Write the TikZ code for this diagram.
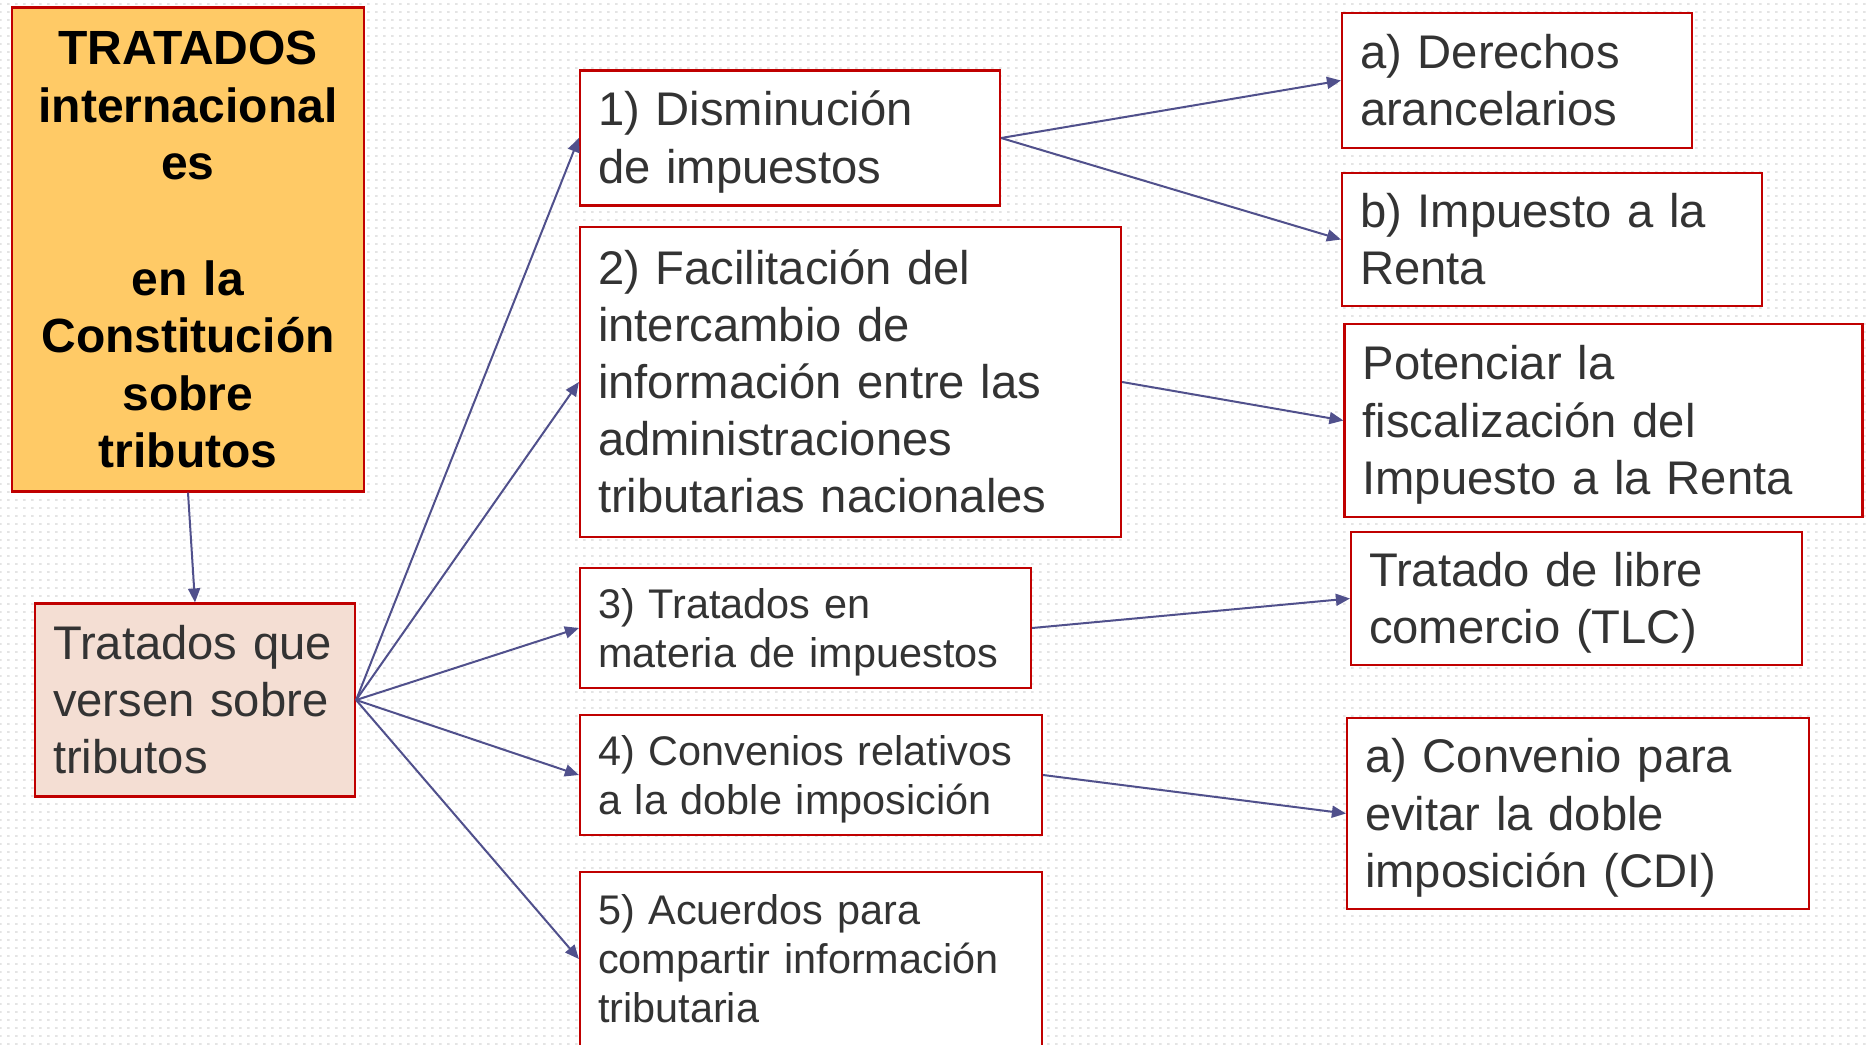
\documentclass[tikz,border=0pt]{standalone}
\usepackage{fontspec}
\setmainfont{Liberation Sans}
\usetikzlibrary{arrows.meta,patterns.meta}
\definecolor{boxred}{HTML}{C00000}
\definecolor{txt}{HTML}{333333}
\definecolor{arrcol}{HTML}{50508C}
\definecolor{orangefill}{HTML}{FFCA66}
\definecolor{pinkfill}{HTML}{F4DED3}
\definecolor{dotcol}{HTML}{E4E4E4}
\newcommand\bigf{\fontsize{23.6pt}{28.6pt}\selectfont}
\newcommand\smallf{\fontsize{20.7pt}{24.5pt}\selectfont}
\newcommand\hs{\rule{0pt}{1em}}
\newcommand\ds{\rule[-0.3em]{0pt}{0pt}}
\tikzdeclarepattern{name=bgdots, type=uncolored,
  bounding box={(0pt,0pt) and (4pt,4pt)}, tile size={(4pt,4pt)},
  code={\fill (0pt,0pt) rectangle (1.5pt,1.1pt);}}
\tikzset{
  box/.style={draw=boxred, line width=1.1pt, fill=white, inner xsep=9pt, inner ysep=0pt,
    align=left, anchor=center, text=txt, font=\bigf},
  sbox/.style={box, font=\smallf},
  arr/.style={draw=arrcol, line width=1pt, -{Triangle[length=7pt,width=6pt]}}
}
\begin{document}
\begin{tikzpicture}[x=0.5pt,y=-0.5pt]
\useasboundingbox (0,0) rectangle (1866,1044);
\fill[white] (0,0) rectangle (1866,1044);
\fill[pattern=bgdots, pattern color=dotcol] (0,0) rectangle (1866,1044);

\node[box, fill=orangefill, align=center, text=black, font=\fontsize{24pt}{28.8pt}\selectfont\bfseries,
  minimum width=176pt, minimum height=242pt, text width=158pt] (title) at (188,249.5)
  {\hs TRATADOS\\internacional\\es\\[28.8pt]en la\\Constitución\\sobre\\tributos\ds};

\node[box, fill=pinkfill, minimum width=160pt, minimum height=96.5pt, text width=142pt] (pink) at (195,700)
  {\hs Tratados que\\versen sobre\\tributos\ds};

\node[box, minimum width=210pt, minimum height=67.5pt, text width=192pt] (b1) at (790,138)
  {\hs 1) Disminución\\de impuestos\ds};
\node[box, minimum width=270.5pt, minimum height=155pt, text width=252.5pt] (b2) at (850.5,382)
  {\hs 2) Facilitación del\\intercambio de\\información entre las\\administraciones\\tributarias nacionales\ds};
\node[sbox, minimum width=225.5pt, minimum height=60pt, text width=207.5pt] (b3) at (805.5,628)
  {\hs 3) Tratados en\\materia de impuestos\ds};
\node[sbox, minimum width=231pt, minimum height=60pt, text width=213pt] (b4) at (811,775)
  {\hs 4) Convenios relativos\\a la doble imposición\ds};
\node[sbox, minimum width=231pt, minimum height=87pt, text width=213pt] (b5) at (811,959)
  {\hs 5) Acuerdos para\\compartir información\\tributaria\ds};

\node[box, minimum width=175pt, minimum height=67.5pt, text width=157pt] (ra) at (1517,80.5)
  {\hs a) Derechos\\arancelarios\ds};
\node[box, minimum width=210pt, minimum height=66.5pt, text width=192pt] (rb) at (1552,239.5)
  {\hs b) Impuesto a la\\Renta\ds};
\node[box, minimum width=259pt, minimum height=96.5pt, text width=241pt] (rp) at (1603.5,420.5)
  {\hs Potenciar la\\fiscalización del\\Impuesto a la Renta\ds};
\node[box, minimum width=225.5pt, minimum height=66.5pt, text width=207.5pt] (rt) at (1576.5,598.5)
  {\hs Tratado de libre\\comercio (TLC)\ds};
\node[box, minimum width=231pt, minimum height=95.5pt, text width=213pt] (rc) at (1578,813.5)
  {\hs a) Convenio para\\evitar la doble\\imposición (CDI)\ds};

\draw[arr] (title.south) -- (pink.north);
\draw[arr] (pink.east) -- (b1.west);
\draw[arr] (pink.east) -- (b2.west);
\draw[arr] (pink.east) -- (b3.west);
\draw[arr] (pink.east) -- (b4.west);
\draw[arr] (pink.east) -- (b5.west);
\draw[arr] (b1.east) -- (ra.west);
\draw[arr] (b1.east) -- (rb.west);
\draw[arr] (b2.east) -- (rp.west);
\draw[arr] (b3.east) -- (rt.west);
\draw[arr] (b4.east) -- (rc.west);
\end{tikzpicture}
\end{document}
